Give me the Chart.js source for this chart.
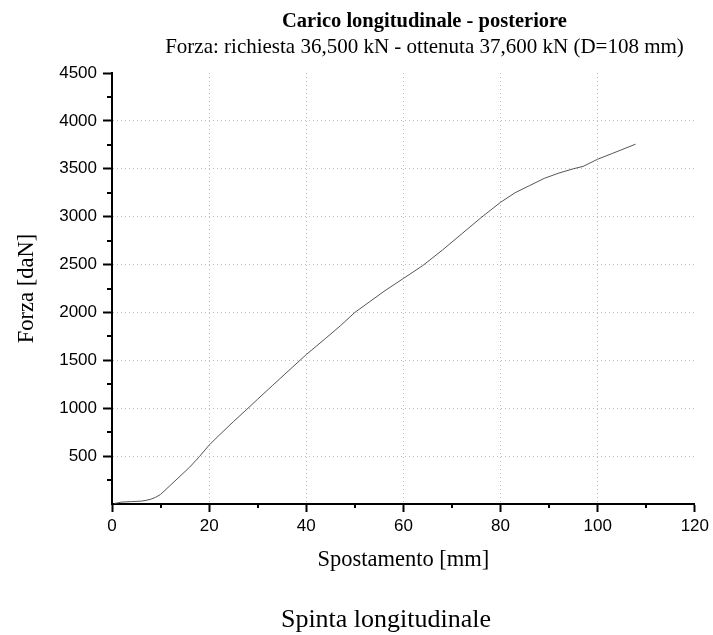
<!DOCTYPE html>
<html>
<head>
<meta charset="utf-8">
<script src="https://cdn.jsdelivr.net/npm/chart.js@4"></script>
<style>
  body { margin: 0; background: #fff; }
  #wrap { position: relative; width: 713px; height: 635px; overflow: hidden; }
  #wrap canvas { position: absolute; left: 0; top: 0; }
  .txt { position: absolute; white-space: nowrap; font-family: "Liberation Serif", "DejaVu Serif", serif; color: #000; line-height: 1; transform: translateX(-50%); }
</style>
</head>
<body>
<div id="wrap">
  <canvas id="chart" width="713" height="635"></canvas>
  <div class="txt" style="left:424.5px; top:10px; font-size:20.5px; font-weight:bold;">Carico longitudinale - posteriore</div>
  <div class="txt" style="left:424.5px; top:36px; font-size:21px;">Forza: richiesta 36,500 kN - ottenuta 37,600 kN (D=108 mm)</div>
  <div class="txt" style="left:386px; top:606px; font-size:26px;">Spinta longitudinale</div>
</div>
<script>
// Spostamento [mm]
const spostamento = [0.5, 1, 2, 4, 6, 7, 8, 9, 10, 12, 14, 16, 18, 20, 22, 25, 28, 30, 33, 36, 40, 44, 47, 50, 53, 56, 60, 64, 68, 72, 76, 80, 83, 86, 89, 92, 95, 97, 100, 103, 105, 107.8];
// Forza [daN]
const forza = [5, 10, 20, 25, 30, 38, 50, 70, 100, 195, 290, 385, 495, 615, 715, 860, 1000, 1095, 1235, 1375, 1560, 1730, 1860, 2000, 2110, 2220, 2355, 2490, 2650, 2820, 2990, 3150, 3250, 3325, 3400, 3455, 3500, 3525, 3600, 3660, 3700, 3757];

const xTicks = [0, 20, 40, 60, 80, 100, 120];
const yTicks = [500, 1000, 1500, 2000, 2500, 3000, 3500, 4000, 4500];
const xMinor = [10, 30, 50, 70, 90, 110];
const yMinor = [250, 750, 1250, 1750, 2250, 2750, 3250, 3750, 4250];

const tickFont = { family: '"Liberation Sans", Arial, sans-serif', size: 17 };
const titleFont = { family: '"Liberation Serif", "Times New Roman", serif', size: 22.5 };

// tacche secondarie
const minorTicks = {
  id: 'minorTicks',
  afterDraw(chart) {
    const { ctx, scales: { x, y } } = chart;
    ctx.save();
    ctx.strokeStyle = '#000';
    ctx.lineWidth = 2;
    ctx.beginPath();
    xMinor.forEach(v => {
      const px = Math.round(x.getPixelForValue(v));
      ctx.moveTo(px, y.bottom);
      ctx.lineTo(px, y.bottom + 4);
    });
    yMinor.forEach(v => {
      const py = Math.round(y.getPixelForValue(v));
      ctx.moveTo(x.left, py);
      ctx.lineTo(x.left - 5, py);
    });
    ctx.stroke();
    ctx.restore();
  }
};

new Chart(document.getElementById('chart'), {
  type: 'line',
  data: {
    datasets: [{
      data: spostamento.map((v, i) => ({ x: v, y: forza[i] })),
      borderColor: '#555',
      borderWidth: 1,
      pointRadius: 0,
      tension: 0,
      fill: false
    }]
  },
  options: {
    responsive: false,
    animation: false,
    layout: { padding: { left: 14, top: 73, right: 17, bottom: 61 } },
    plugins: { legend: { display: false }, tooltip: { enabled: false } },
    scales: {
      x: {
        type: 'linear',
        min: 0, max: 120,
        afterBuildTicks: s => { s.ticks = xTicks.map(v => ({ value: v })); },
        afterFit: s => { s.height = 70; },
        ticks: { font: tickFont, color: '#000', padding: 4, maxRotation: 0 },
        grid: {
          color: c => (c.tick && (c.tick.value === 0 || c.tick.value === 120)) ? 'rgba(0,0,0,0)' : '#bbb',
          lineWidth: 1,
          tickColor: '#000',
          tickLength: 8,
          tickWidth: 2
        },
        border: { color: '#000', width: 2, dash: [1, 3] },
        title: { display: true, text: 'Spostamento [mm]', font: titleFont, color: '#000', padding: 0 }
      },
      y: {
        type: 'linear',
        min: 0, max: 4500,
        afterBuildTicks: s => { s.ticks = [{ value: 0 }].concat(yTicks.map(v => ({ value: v }))); },
        afterFit: s => { s.width = 98; },
        ticks: { font: tickFont, color: '#000', padding: 6, callback: v => v === 0 ? '' : v },
        grid: {
          color: c => (c.tick && (c.tick.value === 0 || c.tick.value === 4500)) ? 'rgba(0,0,0,0)' : '#bbb',
          lineWidth: 1,
          tickColor: c => (c.tick && c.tick.value === 0) ? 'rgba(0,0,0,0)' : '#000',
          tickLength: 9,
          tickWidth: 2
        },
        border: { color: '#000', width: 2, dash: [1, 3] },
        title: { display: true, text: 'Forza [daN]', font: titleFont, color: '#000', padding: 0 }
      }
    }
  },
  plugins: [minorTicks]
});
</script>
</body>
</html>
